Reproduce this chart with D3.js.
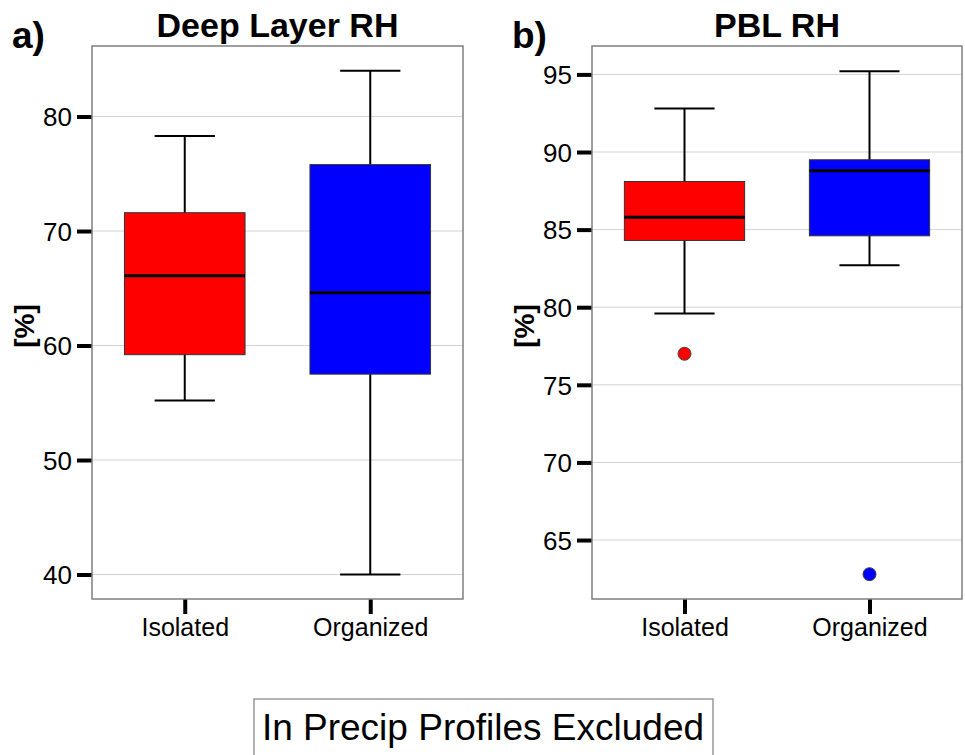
<!DOCTYPE html>
<html>
<head>
<meta charset="utf-8">
<script src="https://cdn.jsdelivr.net/npm/d3@7"></script>
<style>
  body { margin: 0; background: #fff; }
  text { font-family: "Liberation Sans", Arial, sans-serif; }
</style>
</head>
<body>
<div id="chart"></div>
<script>
// box plot stats: [min whisker, q1, median, q3, max whisker]
const categories = ["Isolated", "Organized"];
const colors = ["#ff0000", "#0000ff"];

const deepStats = [
  [55.2, 59.2, 66.1, 71.6, 78.3],
  [40.0, 57.5, 64.6, 75.8, 84.0]
];
const deepOutliers = [[], []];
const deepTicks = [40, 50, 60, 70, 80];

const pblStats = [
  [79.6, 84.3, 85.8, 88.1, 92.8],
  [82.7, 84.6, 88.8, 89.5, 95.2]
];
const pblOutliers = [[77.0], [62.8]];
const pblTicks = [65, 70, 75, 80, 85, 90, 95];

const width = 965, height = 755;

const svg = d3.select("#chart").append("svg")
  .attr("width", width)
  .attr("height", height);

function panel(opts) {
  const { left, right, top, bottom, domain, ticks, stats, outliers, title, tag, labelX } = opts;

  const y = d3.scaleLinear().domain(domain).range([bottom, top]);
  const x = d3.scalePoint().domain(categories).range([left, right]).padding(0.5);
  const boxW = (right - left) * 0.325;

  const g = svg.append("g");

  // grid
  g.selectAll(".grid")
    .data(ticks)
    .enter().append("line")
    .attr("x1", left).attr("x2", right)
    .attr("y1", d => y(d)).attr("y2", d => y(d))
    .attr("stroke", "#d3d3d3")
    .attr("stroke-width", 1);

  // y axis
  const yAxis = g.append("g")
    .attr("transform", `translate(${left},0)`)
    .call(d3.axisLeft(y).tickValues(ticks).tickSize(15).tickPadding(5));
  yAxis.select(".domain").remove();
  yAxis.selectAll(".tick line").attr("stroke", "#000").attr("stroke-width", 4);
  yAxis.selectAll(".tick text")
    .attr("fill", "#000")
    .style("font-size", "26px")
    .attr("dy", "0.36em");

  // x axis
  const xAxis = g.append("g")
    .attr("transform", `translate(0,${bottom})`)
    .call(d3.axisBottom(x).tickSize(15).tickPadding(4));
  xAxis.select(".domain").remove();
  xAxis.selectAll(".tick line").attr("stroke", "#000").attr("stroke-width", 4);
  xAxis.selectAll(".tick text")
    .attr("fill", "#000")
    .style("font-size", "25px");

  // boxes
  const box = g.selectAll(".box")
    .data(stats)
    .enter().append("g")
    .attr("transform", (d, i) => `translate(${x(categories[i])},0)`);

  box.append("line")
    .attr("x1", 0).attr("x2", 0)
    .attr("y1", d => y(d[0])).attr("y2", d => y(d[4]))
    .attr("stroke", "#000").attr("stroke-width", 2);

  box.selectAll(".cap")
    .data(d => [d[0], d[4]])
    .enter().append("line")
    .attr("x1", -boxW / 4).attr("x2", boxW / 4)
    .attr("y1", d => y(d)).attr("y2", d => y(d))
    .attr("stroke", "#000").attr("stroke-width", 2);

  box.append("rect")
    .attr("x", -boxW / 2)
    .attr("width", boxW)
    .attr("y", d => y(d[3]))
    .attr("height", d => y(d[1]) - y(d[3]))
    .attr("fill", (d, i) => colors[i])
    .attr("stroke", "#333")
    .attr("stroke-width", 1);

  box.append("line")
    .attr("x1", -boxW / 2).attr("x2", boxW / 2)
    .attr("y1", d => y(d[2])).attr("y2", d => y(d[2]))
    .attr("stroke", "#000").attr("stroke-width", 3);

  outliers.forEach((pts, i) => {
    g.selectAll(null)
      .data(pts)
      .enter().append("circle")
      .attr("cx", x(categories[i]))
      .attr("cy", d => y(d))
      .attr("r", 6.5)
      .attr("fill", colors[i])
      .attr("stroke", "#444")
      .attr("stroke-width", 1);
  });

  // frame
  g.append("rect")
    .attr("x", left).attr("y", top)
    .attr("width", right - left).attr("height", bottom - top)
    .attr("fill", "none")
    .attr("stroke", "#7f7f7f")
    .attr("stroke-width", 1.5);

  g.append("text")
    .attr("x", (left + right) / 2)
    .attr("y", top - 9)
    .attr("text-anchor", "middle")
    .style("font-size", "34px")
    .style("font-weight", "bold")
    .text(title);

  g.append("text")
    .attr("x", left - 80)
    .attr("y", 48)
    .style("font-size", "37px")
    .style("font-weight", "bold")
    .text(tag);

  g.append("text")
    .attr("transform", `translate(${labelX},326) rotate(-90)`)
    .attr("text-anchor", "middle")
    .style("font-size", "28px")
    .style("font-weight", "bold")
    .text("[%]");
}

panel({
  left: 92, right: 463, top: 46, bottom: 599,
  domain: [37.86, 86.16], ticks: deepTicks,
  stats: deepStats, outliers: deepOutliers,
  title: "Deep Layer RH", tag: "a)", labelX: 34
});

panel({
  left: 592, right: 962, top: 46, bottom: 599,
  domain: [61.2, 96.83], ticks: pblTicks,
  stats: pblStats, outliers: pblOutliers,
  title: "PBL RH", tag: "b)", labelX: 534
});

// bottom label box
svg.append("rect")
  .attr("x", 254).attr("y", 699)
  .attr("width", 459).attr("height", 70)
  .attr("fill", "none")
  .attr("stroke", "#999")
  .attr("stroke-width", 1.5);

svg.append("text")
  .attr("x", 483)
  .attr("y", 740)
  .attr("text-anchor", "middle")
  .style("font-size", "37px")
  .text("In Precip Profiles Excluded");
</script>
</body>
</html>
